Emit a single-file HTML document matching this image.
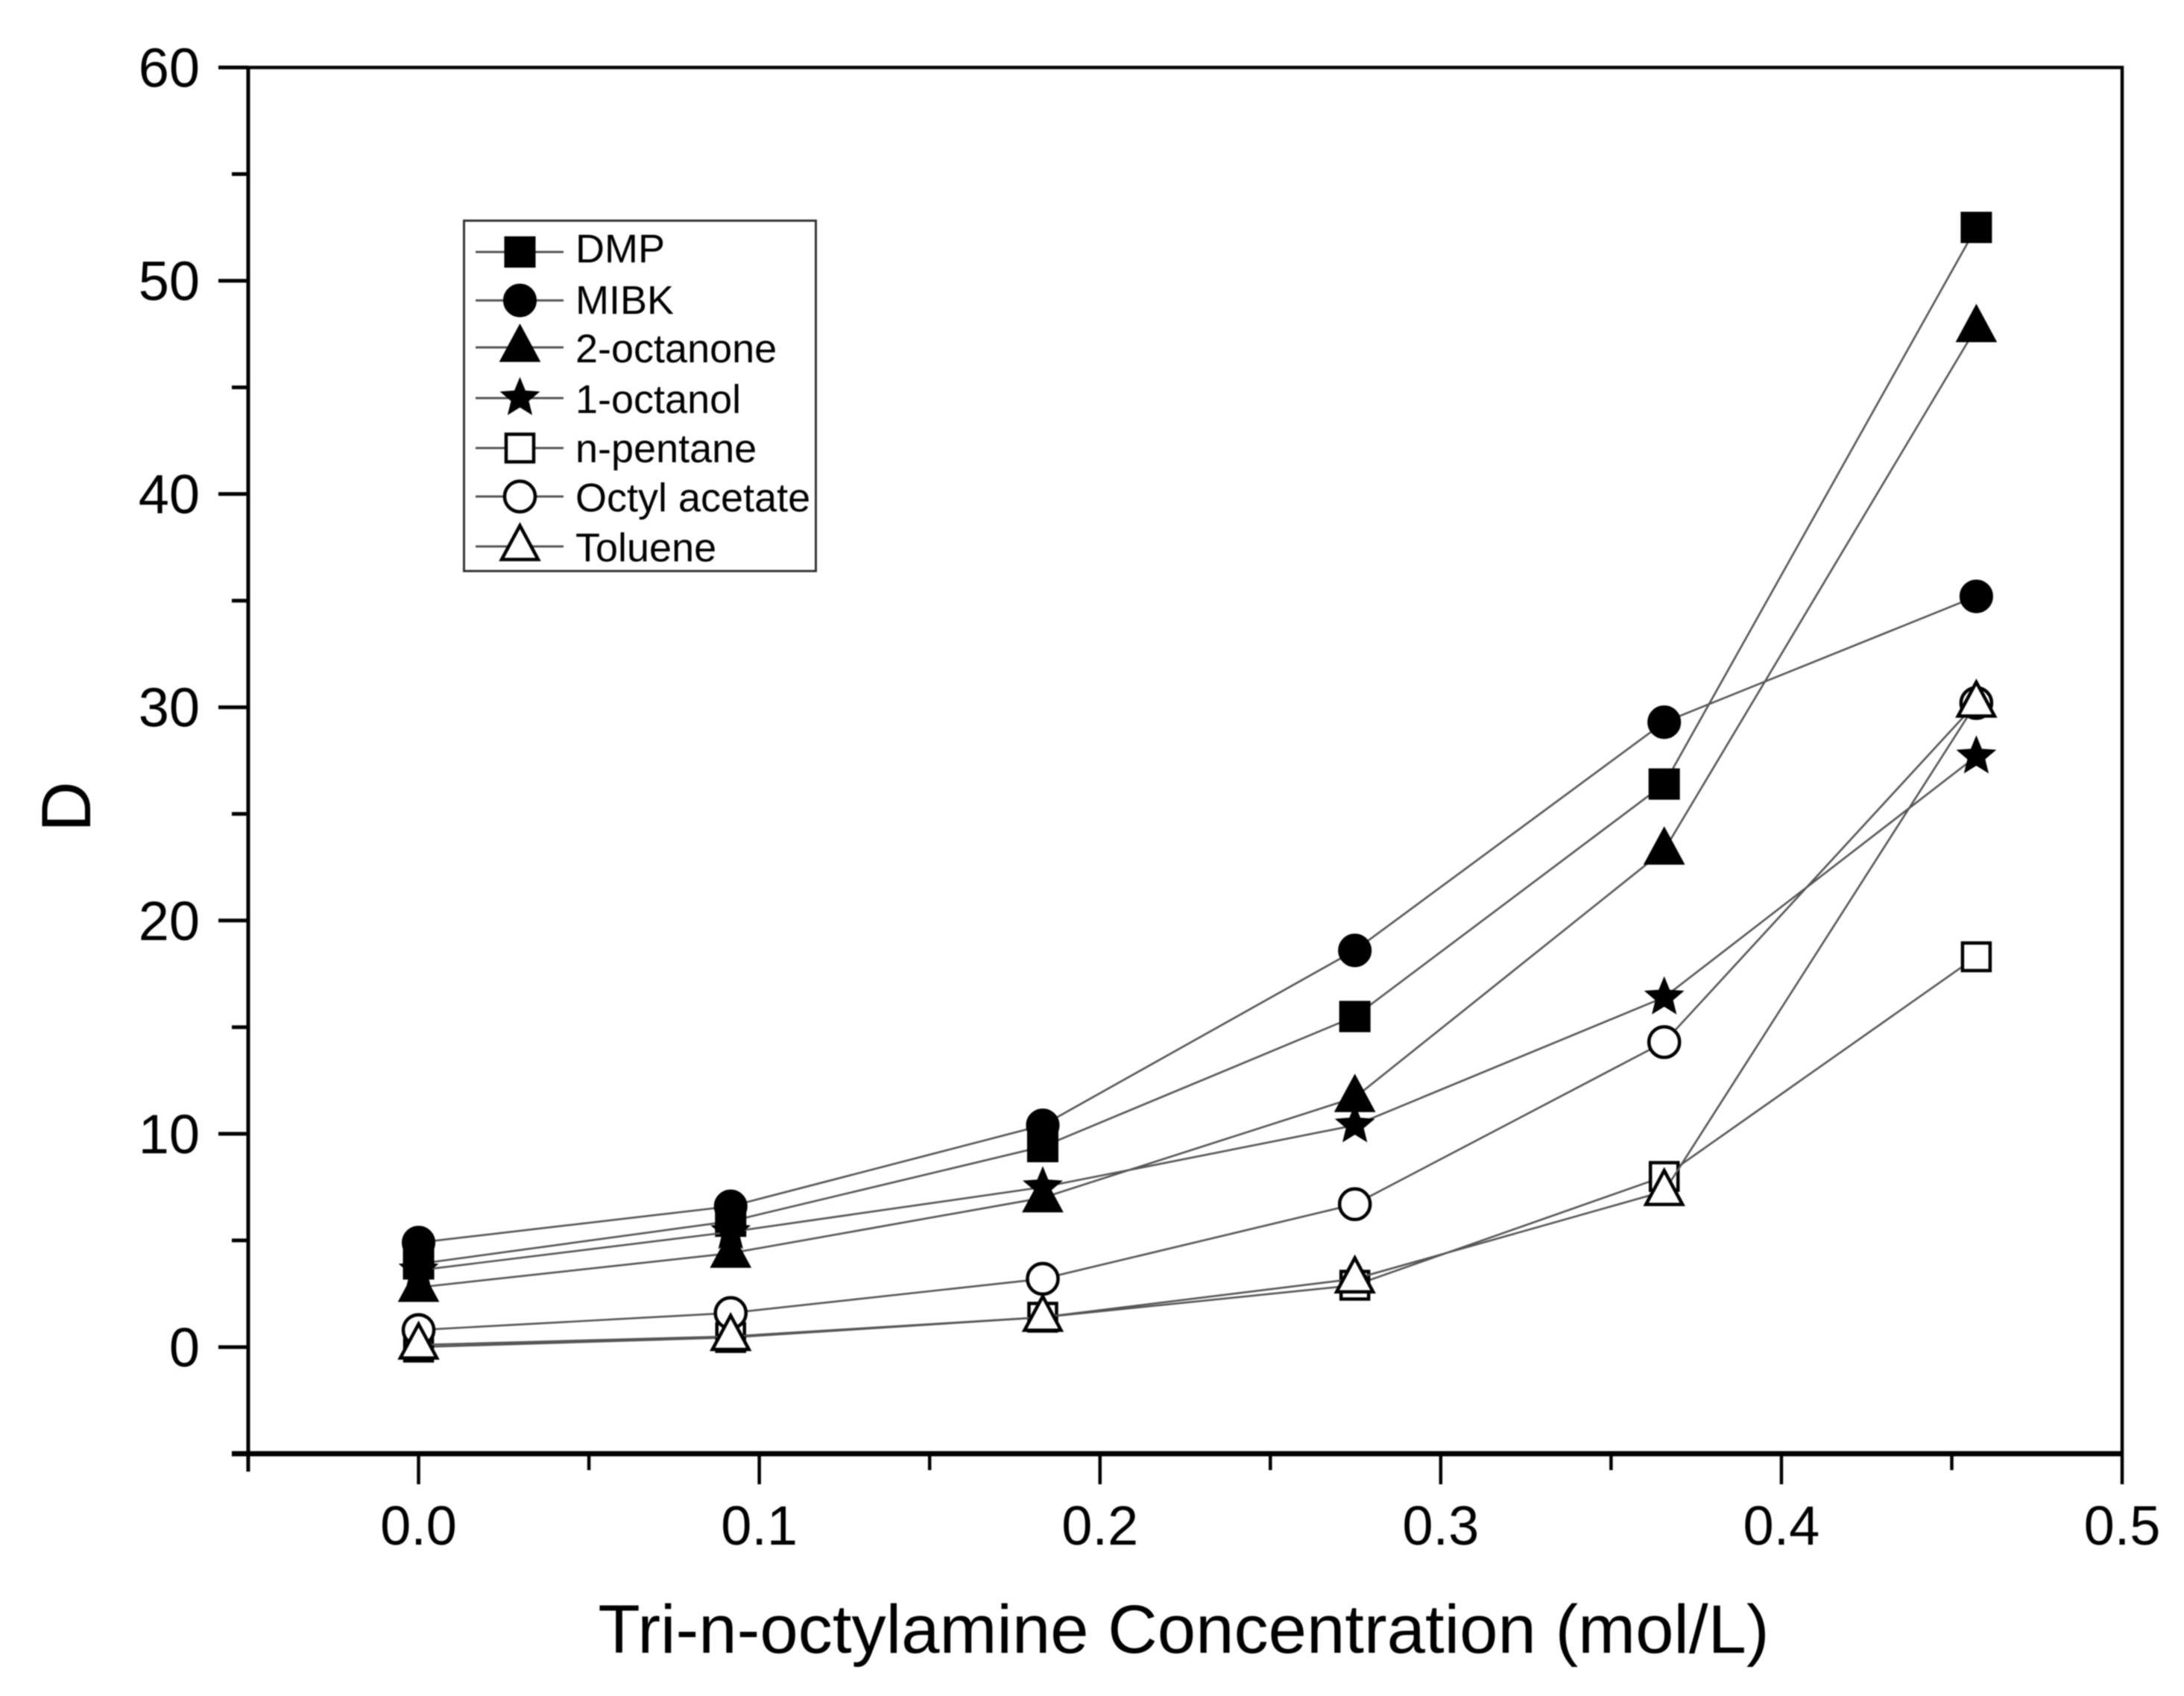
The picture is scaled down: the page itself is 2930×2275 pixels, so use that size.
<!DOCTYPE html>
<html lang="en">
<head>
<meta charset="utf-8">
<title>Distribution coefficient vs Tri-n-octylamine concentration</title>
<style>
html,body{margin:0;padding:0;background:#fff;}
svg{display:block;filter:blur(0.7px);}
text{font-family:"Liberation Sans",sans-serif;fill:#000;}
</style>
</head>
<body>
<svg id="chart" xmlns="http://www.w3.org/2000/svg" width="2930" height="2275" viewBox="0 0 2930 2275">
  <rect x="0" y="0" width="2930" height="2275" fill="#fff"/>
  <g id="series-layer"></g>
  <g id="axes-layer"></g>
  <text x="1588" y="2217" font-size="92.3" text-anchor="middle">Tri-n-octylamine Concentration (mol/L)</text>
  <text transform="translate(121 1082) rotate(-90)" font-size="94" text-anchor="middle">D</text>
  <g id="legend">
    <rect x="622.5" y="296" width="472" height="470" fill="#fff" stroke="#333" stroke-width="3"/>
    <text x="772" y="352" font-size="54">DMP</text>
    <text x="772" y="421" font-size="54">MIBK</text>
    <text x="772" y="486" font-size="54">2-octanone</text>
    <text x="772" y="554" font-size="54">1-octanol</text>
    <text x="772" y="620" font-size="54">n-pentane</text>
    <text x="772" y="686" font-size="54">Octyl acetate</text>
    <text x="772" y="753" font-size="54">Toluene</text>
  </g>
</svg>
<script>
// Data
const concentrations = [0, 0.0916, 0.1832, 0.2748, 0.3656, 0.4572];
const dmpValues = [3.9, 5.9, 9.4, 15.5, 26.4, 52.5];
const mibkValues = [4.9, 6.6, 10.4, 18.6, 29.3, 35.2];
const octanoneValues = [2.8, 4.4, 7.0, 11.7, 23.3, 47.8];
const octanolValues = [3.6, 5.4, 7.5, 10.4, 16.4, 27.7];
const pentaneValues = [0, 0.45, 1.4, 2.9, 8.0, 18.3];
const octylAcetateValues = [0.8, 1.6, 3.2, 6.7, 14.3, 30.2];
const tolueneValues = [0.1, 0.5, 1.4, 3.2, 7.3, 30.2];
const xTickLabels = ['0.0', '0.1', '0.2', '0.3', '0.4', '0.5'];
const xTickValues = [0, 0.1, 0.2, 0.3, 0.4, 0.5];
const xMinorValues = [-0.05, 0.05, 0.15, 0.25, 0.35, 0.45];
const yTickLabels = ['0', '10', '20', '30', '40', '50', '60'];
const yTickValues = [0, 10, 20, 30, 40, 50, 60];
const yMinorValues = [-5, 5, 15, 25, 35, 45, 55];

const NS = 'http://www.w3.org/2000/svg';
const plot = {left: 333, right: 2847, top: 90.5, bottom: 1950};
const xDomain = [-0.05, 0.5];
const yDomain = [-5, 60];
function xScale(v) { return plot.left + (v - xDomain[0]) / (xDomain[1] - xDomain[0]) * (plot.right - plot.left); }
function yScale(v) { return plot.bottom - (v - yDomain[0]) / (yDomain[1] - yDomain[0]) * (plot.bottom - plot.top); }

function make(tag, attrs, parent) {
  const el = document.createElementNS(NS, tag);
  for (const k in attrs) el.setAttribute(k, attrs[k]);
  parent.appendChild(el);
  return el;
}

function drawMarker(shape, filled, cx, cy, parent) {
  const fill = filled ? '#000' : '#fff';
  const style = {fill: fill, stroke: '#000', 'stroke-width': filled ? 1 : 4.5};
  let el;
  if (shape === 'square') {
    const s = filled ? 41 : 37;
    el = make('rect', Object.assign({x: cx - s / 2, y: cy - s / 2, width: s, height: s}, style), parent);
  } else if (shape === 'circle') {
    el = make('circle', Object.assign({cx: cx, cy: cy, r: filled ? 22 : 20.5}, style), parent);
  } else if (shape === 'triangle') {
    const w = filled ? 27 : 24.5, up = filled ? 31 : 28, down = filled ? 19 : 17.5;
    const pts = [[cx, cy - up], [cx + w, cy + down], [cx - w, cy + down]].map(p => p.join(',')).join(' ');
    el = make('polygon', Object.assign({points: pts}, style), parent);
  } else {
    const pts = [];
    for (let i = 0; i < 10; i++) {
      const r = i % 2 ? 12 : 27;
      const a = -Math.PI / 2 + i * Math.PI / 5;
      pts.push((cx + r * Math.cos(a)) + ',' + (cy + r * Math.sin(a)));
    }
    el = make('polygon', Object.assign({points: pts.join(' ')}, style), parent);
  }
  return el;
}

function drawSeries(key, values, shape, filled) {
  const layer = document.getElementById('series-layer');
  const pts = values.map((v, i) => xScale(concentrations[i]) + ',' + yScale(v)).join(' ');
  const line = make('polyline', {points: pts, fill: 'none', stroke: '#555', 'stroke-width': 2.6}, layer);
  
  
  values.forEach((v, i) => {
    const m = drawMarker(shape, filled, xScale(concentrations[i]), yScale(v), layer);
    
    
  });
}

drawSeries('dmp', dmpValues, 'square', true);
drawSeries('mibk', mibkValues, 'circle', true);
drawSeries('2-octanone', octanoneValues, 'triangle', true);
drawSeries('1-octanol', octanolValues, 'star', true);
drawSeries('n-pentane', pentaneValues, 'square', false);
drawSeries('octyl-acetate', octylAcetateValues, 'circle', false);
drawSeries('toluene', tolueneValues, 'triangle', false);

// Axes
const axes = document.getElementById('axes-layer');
const frame = make('path', {d: 'M' + plot.left + ' ' + plot.top + 'H' + plot.right + 'V' + plot.bottom, fill: 'none', stroke: '#000', 'stroke-width': 4.5}, axes);


const yAxisLine = make('line', {x1: plot.left, x2: plot.left, y1: plot.top - 2, y2: plot.bottom + 24, stroke: '#000', 'stroke-width': 5}, axes);


const xAxisLine = make('line', {x1: plot.left - 22, x2: plot.right + 2, y1: plot.bottom, y2: plot.bottom, stroke: '#000', 'stroke-width': 7}, axes);



xTickValues.forEach((v, i) => {
  const t = make('line', {x1: xScale(v), x2: xScale(v), y1: plot.bottom, y2: plot.bottom + 41, stroke: '#000', 'stroke-width': 4.5}, axes);
  
  
  const l = make('text', {x: xScale(v), y: 2072, 'font-size': 74, 'text-anchor': 'middle'}, axes);
  l.textContent = xTickLabels[i];
  
  
});
xMinorValues.forEach(v => {
  const t = make('line', {x1: xScale(v), x2: xScale(v), y1: plot.bottom, y2: plot.bottom + 22, stroke: '#000', 'stroke-width': 4.5}, axes);
  
  
});
yTickValues.forEach((v, i) => {
  const t = make('line', {x1: plot.left - 40, x2: plot.left, y1: yScale(v), y2: yScale(v), stroke: '#000', 'stroke-width': 5}, axes);
  
  
  const l = make('text', {x: 268, y: yScale(v) + 26, 'font-size': 74, 'text-anchor': 'end'}, axes);
  l.textContent = yTickLabels[i];
  
  
});
yMinorValues.forEach(v => {
  const t = make('line', {x1: plot.left - 22, x2: plot.left, y1: yScale(v), y2: yScale(v), stroke: '#000', 'stroke-width': 5}, axes);
  
  
});

// Legend swatches
const legend = document.getElementById('legend');
const legendKeys = ['dmp', 'mibk', '2-octanone', '1-octanol', 'n-pentane', 'octyl-acetate', 'toluene'];
const legendShapes = ['square', 'circle', 'triangle', 'star', 'square', 'circle', 'triangle'];
const legendFilled = [true, true, true, true, false, false, false];
const legendRowY = [338, 403, 466, 534, 601, 666, 733];
legendKeys.forEach((key, i) => {
  const ln = make('line', {x1: 638, x2: 756, y1: legendRowY[i], y2: legendRowY[i], stroke: '#555', 'stroke-width': 3}, legend);
  
  
  const mk = drawMarker(legendShapes[i], legendFilled[i], 697.5, legendRowY[i], legend);
  
  
});
</script>
</body>
</html>
